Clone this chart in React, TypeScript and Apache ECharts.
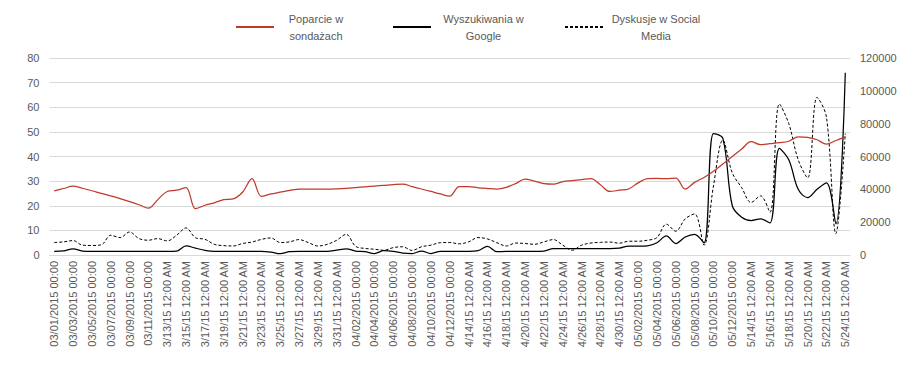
import React, { useEffect, useRef } from "react";
import * as echarts from "echarts";

const categories: string[] = [
  "03/01/2015 00:00","03/02/2015 00:00","03/03/2015 00:00","03/04/2015 00:00","03/05/2015 00:00","03/06/2015 00:00",
  "03/07/2015 00:00","03/08/2015 00:00","03/09/2015 00:00","03/10/2015 00:00","03/11/2015 00:00","03/12/2015 00:00",
  "3/13/15 12:00 AM","3/14/15 12:00 AM","3/15/15 12:00 AM","3/16/15 12:00 AM","3/17/15 12:00 AM","3/18/15 12:00 AM",
  "3/19/15 12:00 AM","3/20/15 12:00 AM","3/21/15 12:00 AM","3/22/15 12:00 AM","3/23/15 12:00 AM","3/24/15 12:00 AM",
  "3/25/15 12:00 AM","3/26/15 12:00 AM","3/27/15 12:00 AM","3/28/15 12:00 AM","3/29/15 12:00 AM","3/30/15 12:00 AM",
  "3/31/15 12:00 AM",
  "04/01/2015 00:00","04/02/2015 00:00","04/03/2015 00:00","04/04/2015 00:00","04/05/2015 00:00","04/06/2015 00:00",
  "04/07/2015 00:00","04/08/2015 00:00","04/09/2015 00:00","04/10/2015 00:00","04/11/2015 00:00","04/12/2015 00:00",
  "4/13/15 12:00 AM","4/14/15 12:00 AM","4/15/15 12:00 AM","4/16/15 12:00 AM","4/17/15 12:00 AM","4/18/15 12:00 AM",
  "4/19/15 12:00 AM","4/20/15 12:00 AM","4/21/15 12:00 AM","4/22/15 12:00 AM","4/23/15 12:00 AM","4/24/15 12:00 AM",
  "4/25/15 12:00 AM","4/26/15 12:00 AM","4/27/15 12:00 AM","4/28/15 12:00 AM","4/29/15 12:00 AM","4/30/15 12:00 AM",
  "05/01/2015 00:00","05/02/2015 00:00","05/03/2015 00:00","05/04/2015 00:00","05/05/2015 00:00","05/06/2015 00:00",
  "05/07/2015 00:00","05/08/2015 00:00","05/09/2015 00:00","05/10/2015 00:00","05/11/2015 00:00","05/12/2015 00:00",
  "5/13/15 12:00 AM","5/14/15 12:00 AM","5/15/15 12:00 AM","5/16/15 12:00 AM","5/17/15 12:00 AM","5/18/15 12:00 AM",
  "5/19/15 12:00 AM","5/20/15 12:00 AM","5/21/15 12:00 AM","5/22/15 12:00 AM","5/23/15 12:00 AM","5/24/15 12:00 AM"
];

const polls: number[] = [
  26, 27, 28, 27.1, 26.1, 25, 24, 22.9, 21.7, 20.4, 19, 22.5, 25.8, 26.3, 27.4, 18.8, 20.2, 21.2, 22.5, 22.8,
  25.5, 31, 23.8, 24.8, 25.5, 26.2, 26.8, 26.8, 26.8, 26.8, 26.9, 27.1, 27.4, 27.7, 28, 28.3, 28.6, 28.8, 27.8, 26.8,
  25.8, 24.8, 23.9, 27.8, 27.8, 27.3, 27, 26.8, 27.5, 29, 30.8, 30, 29, 28.8, 29.8, 30.2, 30.6, 31, 28.5, 25.8,
  26.3, 26.8, 29.3, 31, 31.1, 31, 31.2, 26.8, 29.5, 31.5, 34, 37, 40, 43, 46, 44.8, 45.2, 45.6, 46.2, 48,
  47.8, 46.8, 45, 46.5, 48
];

const google: number[] = [
  2200, 2500, 3800, 2400, 2200, 2200, 2200, 2200, 2200, 2200, 2200, 2200, 2200, 2400, 5500, 4200, 2800, 2200, 2200, 2200,
  2200, 2200, 2200, 1800, 800, 2000, 2200, 2200, 2200, 2200, 3000, 3800, 2400, 2000, 900, 2600, 2200, 1200, 900, 2400,
  900, 2200, 2200, 2200, 2200, 2600, 5200, 2000, 2200, 2200, 2200, 2200, 2400, 3900, 3900, 3900, 3900, 3900, 3900, 3900,
  4200, 5400, 5400, 5600, 7500, 11600, 7000, 11000, 12600, 7300, 74000, 71000, 30000, 23000, 21000, 22000, 19500, 65000, 58000, 40000,
  35000, 40000, 44000, 19000, 111000
];

const social: number[] = [
  7600, 8000, 8800, 6000, 5800, 6200, 12000, 10600, 14000, 10000, 9000, 10000, 8600, 12000, 16500, 10500, 9600, 6500, 5700, 5500,
  7000, 7900, 9500, 10400, 7600, 8000, 9400, 7500, 5500, 6500, 9000, 12600, 5300, 4000, 3500, 2900, 4500, 5000, 2800, 5000,
  6000, 7500, 7600, 6800, 8000, 10600, 9800, 7500, 5500, 7300, 7000, 6500, 8000, 9400, 6000, 2900, 6000, 7300, 7700, 7900,
  7200, 8400, 8400, 9000, 10600, 18800, 14500, 22000, 25000, 6000, 42000, 70000, 50000, 41000, 32000, 36000, 26000, 92000, 80000, 58000,
  47000, 96000, 84000, 13000, 74000
];

const leftTicks = { min: 0, max: 80, interval: 10 };
const rightTicks = { min: 0, max: 120000, interval: 20000 };

const seriesNames = ["Poparcie w\nsondażach", "Wyszukiwania w\nGoogle", "Dyskusje w Social\nMedia"];

const FONT = "Liberation Sans";
const TXT = "#595959";

export default function App() {
  const ref = useRef<HTMLDivElement>(null);
  useEffect(() => {
    if (!ref.current) return;
    const chart = echarts.init(ref.current, null, { renderer: "svg" });
    const legendBase = (name: string, left: number, w: number) => ({
      data: [name],
      left,
      top: 0,
      itemWidth: 38,
      itemHeight: 14,
      itemGap: 5,
      itemStyle: { opacity: 0 },
      formatter: (n: string) =>
        n.split("\n").map((s) => `{a|${s}}`).join("\n"),
      textStyle: {
        rich: {
          a: { width: w, align: "center", fontFamily: FONT, fontSize: 11, color: TXT, lineHeight: 17 },
        },
      },
    });
    chart.setOption({
      animation: false,
      textStyle: { fontFamily: FONT },
      legend: [
        legendBase(seriesNames[0], 222, 74),
        legendBase(seriesNames[1], 379, 95),
        legendBase(seriesNames[2], 551, 96),
      ],
      grid: { left: 41.5, right: 60, top: 50, bottom: 117, containLabel: false },
      xAxis: {
        type: "category",
        data: categories,
        boundaryGap: true,
        axisLine: { lineStyle: { color: "#d9d9d9" } },
        axisTick: { show: false },
        axisLabel: {
          interval: 1,
          rotate: 90,
          margin: 6,
          fontFamily: FONT,
          fontSize: 11,
          color: TXT,
        },
      },
      yAxis: [
        {
          type: "value",
          ...leftTicks,
          axisLine: { show: false },
          axisTick: { show: false },
          splitLine: { lineStyle: { color: "#d9d9d9" } },
          axisLabel: { margin: 10, fontFamily: FONT, fontSize: 11, color: TXT },
        },
        {
          type: "value",
          ...rightTicks,
          position: "right",
          axisLine: { show: false },
          axisTick: { show: false },
          splitLine: { show: false },
          axisLabel: {
            margin: 10,
            fontFamily: FONT,
            fontSize: 11,
            color: TXT,
            formatter: (v: number) => String(v),
          },
        },
      ],
      series: [
        {
          name: seriesNames[0],
          type: "line",
          data: polls,
          yAxisIndex: 0,
          smooth: 0.35,
          symbol: "none",
          lineStyle: { color: "#c0392b", width: 1.25 },
          itemStyle: { color: "#c0392b" },
          z: 3,
        },
        {
          name: seriesNames[1],
          type: "line",
          data: google,
          yAxisIndex: 1,
          smooth: 0.35,
          symbol: "none",
          lineStyle: { color: "#000000", width: 1.25 },
          itemStyle: { color: "#000000" },
          z: 2,
        },
        {
          name: seriesNames[2],
          type: "line",
          data: social,
          yAxisIndex: 1,
          smooth: 0.35,
          symbol: "none",
          lineStyle: { color: "#000000", width: 1, type: [3, 2] },
          itemStyle: { color: "#000000" },
          z: 2,
        },
      ],
    });
    return () => chart.dispose();
  }, []);
  return <div ref={ref} style={{ width: 902, height: 364 }} />;
}
